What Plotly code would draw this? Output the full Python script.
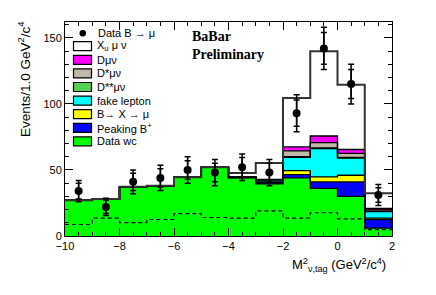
import numpy as np
import plotly.graph_objects as go

# bin edges of M^2_nu,tag (GeV^2/c^4), 1 GeV^2 wide
bin_edges = [-10, -9, -8, -7, -6, -5, -4, -3, -2, -1, 0, 1, 2]
bin_centers = [-9.5, -8.5, -7.5, -6.5, -5.5, -4.5, -3.5, -2.5, -1.5, -0.5, 0.5, 1.5]

# stacked MC components (bottom -> top)
data_wc = [27, 28, 37.2, 38, 44.5, 52, 44, 39.5, 44, 36, 30, 6]
peaking_bp = [0, 0, 0, 0, 0, 0, 0.3, 1, 2.5, 5, 11, 6.5]
b_x_mu = [0, 0, 0, 0, 0, 0, 0.2, 0.5, 3, 3.7, 5, 1]
fake_lepton = [0, 0, 0, 0, 0, 0, 0.2, 1.5, 10, 21.5, 13, 5]
dss_mu_nu = [0, 0, 0, 0, 0, 0, 0, 0, 0.5, 0.5, 0.5, 0.3]
ds_mu_nu = [0, 0, 0, 0, 0, 0, 0, 0.2, 4.5, 4, 3, 1]
d_mu_nu = [0, 0, 0, 0, 0, 0, 0, 0.2, 3, 5, 3, 1]
xu_mu_nu = [0, 0, 0, 0, 0, 0, 3, 12.3, 36.9, 64.1, 49, 11.6]

# dashed component
dashed = [8.7, 13.5, 10.2, 12.5, 17, 14, 13.5, 19, 13.5, 17.6, 13, 4.9]

# data points B -> mu
data_y = [34, 22, 41, 44, 50, 48, 52, 48, 93, 142, 115, 31]
err_outer = [8, 6.5, 9, 9.5, 10, 10, 10, 10, 14, 16, 15, 8]
err_inner = [6, 5, 6.5, 7, 7, 7, 7.5, 7, 10, 12, 11, 5.5]

components = [
    ("Data wc", data_wc, "#00ff00"),
    ("Peaking B<sup>+</sup>", peaking_bp, "#0000ff"),
    ("B\u2192 X \u2192 \u03bc", b_x_mu, "#ffff00"),
    ("fake lepton", fake_lepton, "#00ffff"),
    ("D**\u03bc\u03bd", dss_mu_nu, "#55d055"),
    ("D*\u03bc\u03bd", ds_mu_nu, "#c0b8a8"),
    ("D\u03bc\u03bd", d_mu_nu, "#ff00ff"),
    ("X<sub>u</sub> \u03bc \u03bd", xu_mu_nu, "#ffffff"),
]

fig = go.Figure()

# filled stack
for name, vals, col in components:
    fig.add_trace(go.Bar(x=bin_centers, y=vals, width=1, name=name,
                         marker=dict(color=col, line=dict(width=0)),
                         showlegend=False))

# black outlines of each cumulative histogram
cum = np.zeros(len(bin_centers))
for i, (name, vals, col) in enumerate(components):
    cum = cum + np.array(vals)
    last = i == len(components) - 1
    fig.add_trace(go.Scatter(x=bin_edges, y=list(cum) + [cum[-1]], mode='lines',
                             line=dict(shape='hv', color='#333' if last else 'black',
                                       width=2 if last else 1.3),
                             showlegend=False, hoverinfo='skip'))

fig.add_trace(go.Scatter(x=bin_edges, y=dashed + [dashed[-1]], mode='lines',
                         line=dict(shape='hv', color='black', width=1.2, dash='4px,3px'),
                         showlegend=False))

# data with two error bar levels
fig.add_trace(go.Scatter(x=bin_centers, y=data_y, mode='markers',
                         marker=dict(size=0.1, color='black'),
                         error_y=dict(type='data', array=err_outer, color='black',
                                      thickness=1.5, width=3),
                         showlegend=False))
fig.add_trace(go.Scatter(x=bin_centers, y=data_y, mode='markers',
                         marker=dict(size=8, color='black'),
                         error_y=dict(type='data', array=err_inner, color='black',
                                      thickness=1.5, width=3),
                         showlegend=False))

# hand-made ROOT style legend (pixel positions -> paper coords)
L, T, W, H = 65, 22, 327, 214


def px(x):
    return (x - L) / W


def py(y):
    return (T + H - y) / H


font = dict(family='Liberation Sans, Arial', size=11, color='black')
shapes = [dict(type='circle', xref='paper', yref='paper',
               x0=px(79.5), x1=px(86), y0=py(30), y1=py(36.5),
               fillcolor='black', line=dict(width=0))]
annotations = [dict(text="Data B \u2192 \u03bc", xref='paper', yref='paper', x=px(96), y=py(33),
                    xanchor='left', yanchor='middle', showarrow=False, font=font)]
for k, (name, vals, col) in enumerate(reversed(components)):
    yc = 46.2 + 13.6 * k
    shapes.append(dict(type='rect', xref='paper', yref='paper',
                       x0=px(73.5), x1=px(91.5), y0=py(yc - 4.5), y1=py(yc + 4.5),
                       fillcolor=col, line=dict(color='black', width=1.2)))
    annotations.append(dict(text=name, xref='paper', yref='paper', x=px(95), y=py(yc),
                            xanchor='left', yanchor='middle', showarrow=False, font=font))

serif = dict(family='Liberation Serif, Times New Roman', size=14, color='black')
annotations += [
    dict(text="<b>BaBar</b>", xref='paper', yref='paper', x=px(190), y=py(37),
         xanchor='left', yanchor='middle', showarrow=False, font=serif),
    dict(text="<b>Preliminary</b>", xref='paper', yref='paper', x=px(190), y=py(54),
         xanchor='left', yanchor='middle', showarrow=False, font=serif),
    dict(text="Events/1.0 GeV<sup>2</sup>/c<sup>4</sup>", xref='paper', yref='paper',
         x=px(24), y=py(19), textangle=-90, xanchor='center', yanchor='top',
         showarrow=False, font=dict(family='Liberation Sans, Arial', size=13.5, color='black')),
    dict(text="M<sup>2</sup><sub>\u03bd,tag</sub> (GeV<sup>2</sup>/c<sup>4</sup>)",
         xref='paper', yref='paper', x=px(388), y=py(265), xanchor='right', yanchor='middle',
         showarrow=False, font=dict(family='Liberation Sans, Arial', size=13, color='black')),
]

fig.update_xaxes(range=[-10, 2], dtick=2, tick0=-10, ticks='inside', ticklen=8,
                 tickwidth=1, tickcolor='black', showline=True, linecolor='black',
                 linewidth=1, mirror='ticks', showgrid=False, zeroline=False,
                 minor=dict(dtick=0.5, ticks='inside', ticklen=4, tickcolor='black'),
                 tickfont=dict(family='Liberation Sans, Arial', size=11, color='black'))
fig.update_yaxes(range=[0, 162], dtick=50, ticks='inside', ticklen=8,
                 tickwidth=1, tickcolor='black', showline=True, linecolor='black',
                 linewidth=1, mirror='ticks', showgrid=False, zeroline=False,
                 minor=dict(dtick=10, ticks='inside', ticklen=4, tickcolor='black'),
                 tickfont=dict(family='Liberation Sans, Arial', size=11, color='black'))

fig.update_layout(barmode='stack', bargap=0, width=436, height=295,
                  margin=dict(l=L, r=436 - L - W, t=T, b=295 - T - H),
                  plot_bgcolor='white', paper_bgcolor='white',
                  showlegend=False, shapes=shapes, annotations=annotations)

fig.write_html("out.html", config={'displayModeBar': False},
               post_script="document.body.style.margin='0';")
